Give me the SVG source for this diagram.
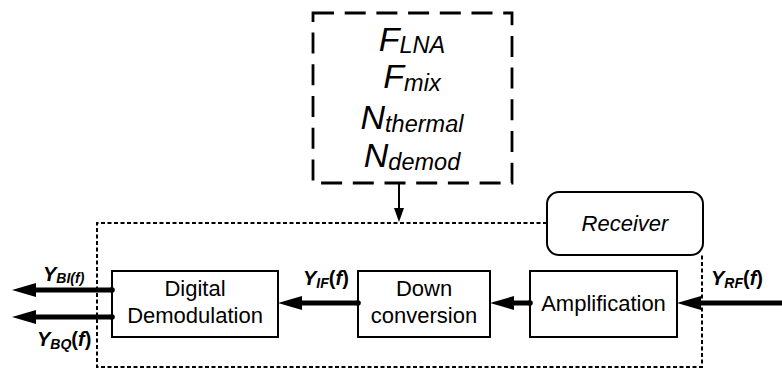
<svg xmlns="http://www.w3.org/2000/svg" width="782" height="371" viewBox="0 0 782 371">
  <style>
    .box { fill: #ffffff; stroke: #000000; stroke-width: 2; }
    .lbl { font-family: "Liberation Sans", Arial, sans-serif; font-size: 22px; fill: #000000; text-anchor: middle; }
    .param { font-family: "Liberation Sans", Arial, sans-serif; font-size: 34px; font-style: italic; fill: #000000; text-anchor: middle; }
    .param .sub { font-size: 23.5px; }
    .sig { font-family: "Liberation Sans", Arial, sans-serif; font-size: 20px; font-weight: bold; fill: #000000; }
    .sig .y { font-style: italic; }
    .sig .sub { font-size: 14px; font-style: italic; }
    .sig .f { font-style: italic; }
    .thick { stroke: #000000; stroke-width: 5; fill: none; }
  </style>
  <defs>
    <marker id="head" markerUnits="userSpaceOnUse" markerWidth="24" markerHeight="14" refX="2" refY="7" orient="auto">
      <path d="M0,0 L24,7 L0,14 z" fill="#000000"/>
    </marker>
    <marker id="headThin" markerUnits="userSpaceOnUse" markerWidth="14" markerHeight="10" refX="2" refY="5" orient="auto">
      <path d="M0,0 L14,5 L0,10 z" fill="#000000"/>
    </marker>
    <marker id="dot" markerUnits="userSpaceOnUse" markerWidth="8" markerHeight="8" refX="4" refY="4">
      <circle cx="4" cy="4" r="2.8" fill="#000000"/>
    </marker>
  </defs>

  <!-- noise parameters block -->
  <g id="noise-params">
    <rect x="313" y="13" width="199" height="170" fill="none" stroke="#000000" stroke-width="2.8" stroke-dasharray="21 10.7"/>
    <text class="param" x="412" y="51">F<tspan class="sub" dy="2">LNA</tspan></text>
    <text class="param" x="412" y="88">F<tspan class="sub" dy="3">mix</tspan></text>
    <text class="param" x="412" y="129">N<tspan class="sub" dy="3">thermal</tspan></text>
    <text class="param" x="412" y="167">N<tspan class="sub" dy="3">demod</tspan></text>
  </g>

  <!-- receiver boundary -->
  <g id="receiver">
    <path d="M547,223 H97 V367 H702 V255" fill="none" stroke="#000000" stroke-width="2" stroke-dasharray="4 2.5"/>
    <rect x="547" y="192" width="156" height="63" rx="12" ry="12" fill="#ffffff" stroke="#000000" stroke-width="2"/>
    <text class="lbl" x="625" y="231" font-style="italic">Receiver</text>
  </g>

  <g id="digital-demodulation">
    <rect class="box" x="112" y="271" width="166" height="66"/>
    <text class="lbl" x="195" y="296">Digital</text>
    <text class="lbl" x="195" y="323">Demodulation</text>
  </g>

  <g id="down-conversion">
    <rect class="box" x="358" y="271" width="132" height="66"/>
    <text class="lbl" x="424" y="296">Down</text>
    <text class="lbl" x="424" y="323">conversion</text>
  </g>

  <g id="amplification">
    <rect class="box" x="530" y="271" width="147" height="66"/>
    <text class="lbl" x="603.5" y="311">Amplification</text>
  </g>

  <!-- signal connectors -->
  <g id="connectors">
    <path d="M399,183 V210" stroke="#000000" stroke-width="2" fill="none" marker-end="url(#headThin)"/>
    <path class="thick" d="M782,303 H699" marker-end="url(#head)"/>
    <path class="thick" d="M530,303 H512" marker-start="url(#dot)" marker-end="url(#head)"/>
    <path class="thick" d="M358,303 H300" marker-start="url(#dot)" marker-end="url(#head)"/>
    <path class="thick" d="M112,290 H34" marker-start="url(#dot)" marker-end="url(#head)"/>
    <path class="thick" d="M112,317 H34" marker-start="url(#dot)" marker-end="url(#head)"/>
  </g>

  <!-- signal labels -->
  <g id="signal-labels">
    <text class="sig" x="711" y="285"><tspan class="y">Y</tspan><tspan class="sub" dy="3">RF</tspan><tspan dy="-3">(</tspan><tspan class="f">f</tspan>)</text>
    <text class="sig" x="303" y="285"><tspan class="y">Y</tspan><tspan class="sub" dy="3">IF</tspan><tspan dy="-3">(</tspan><tspan class="f">f</tspan>)</text>
    <text class="sig" x="43" y="281"><tspan class="y">Y</tspan><tspan class="sub" dy="2">BI(f)</tspan></text>
    <text class="sig" x="37" y="346"><tspan class="y">Y</tspan><tspan class="sub" dy="3">BQ</tspan><tspan dy="-3">(</tspan><tspan class="f">f</tspan>)</text>
  </g>
</svg>
